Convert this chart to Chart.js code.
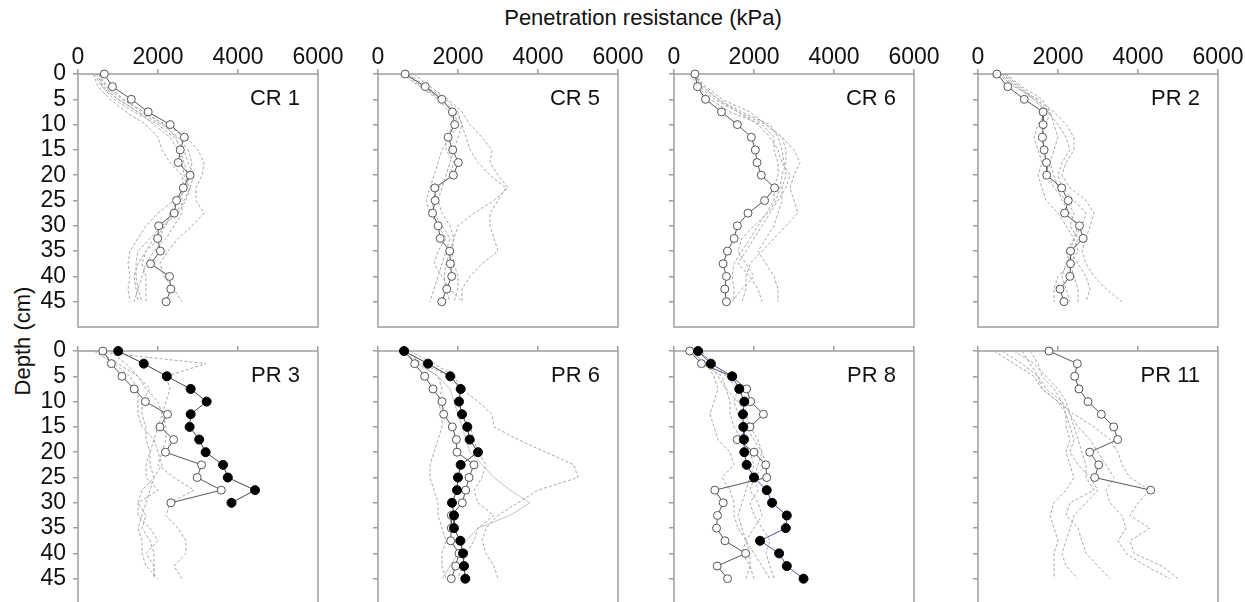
<!DOCTYPE html>
<html>
<head>
<meta charset="utf-8">
<script src="https://cdn.jsdelivr.net/npm/chart.js@4/dist/chart.umd.min.js"></script>
<style>
  body { margin: 0; width: 1245px; height: 602px; overflow: hidden; background: #fff; position: relative;
         font-family: "Liberation Sans", Arial, sans-serif; }
  canvas { position: absolute; }
  .t { position: absolute; font-size: 22px; color: #111; white-space: nowrap; }
</style>
</head>
<body>
<div class="t" style="left:0;width:1286px;text-align:center;top:5px">Penetration resistance (kPa)</div>
<div class="t" style="left:23px;top:341px;transform:translate(-50%,-50%) rotate(-90deg)">Depth (cm)</div>

<script>
// depth of each reading (cm)
const depths = [0, 2.5, 5, 7.5, 10, 12.5, 15, 17.5, 20, 22.5, 25, 27.5, 30, 32.5, 35, 37.5, 40, 42.5, 45];
const xTicks = [0, 2000, 4000, 6000];
const yTicks = [0, 5, 10, 15, 20, 25, 30, 35, 40, 45];
const panelNames = ['CR 1', 'CR 5', 'CR 6', 'PR 2', 'PR 3', 'PR 6', 'PR 8', 'PR 11'];

// highlighted profiles (kPa)
const cr1Open = [658, 861, 1333, 1755, 2304, 2658, 2557, 2506, 2802, 2633, 2464, 2405, 2017, 1992, 2059, 1814, 2287, 2321, 2203];
const cr5Open = [678, 1182, 1595, 1860, 1917, 1752, 1868, 2008, 1884, 1421, 1430, 1364, 1504, 1554, 1793, 1810, 1843, 1719, 1595];
const cr6Open = [523, 589, 788, 1187, 1585, 1934, 2033, 2075, 2183, 2515, 2266, 1851, 1585, 1502, 1336, 1228, 1311, 1270, 1311];
const pr2Open = [471, 744, 1157, 1628, 1628, 1612, 1653, 1711, 1719, 2091, 2256, 2165, 2537, 2628, 2314, 2314, 2298, 2050, 2149];
const pr3Filled = [1004, 1643, 2221, 2817, 3217, 2817, 2791, 3030, 3191, 3626, 3745, 4426, 3838];
const pr3Open = [621, 834, 1098, 1404, 1685, 2238, 2051, 2391, 2187, 3089, 2979, 3583, 2323];
const pr6Filled = [650, 1250, 1808, 2067, 2025, 2100, 2233, 2292, 2500, 2067, 2000, 1975, 1850, 1900, 1900, 2058, 2125, 2150, 2183];
const pr6Open = [667, 917, 1167, 1375, 1600, 1642, 1858, 1958, 1975, 2400, 2275, 2192, 2108, 1833, 1833, 1817, 2025, 1942, 1833];
const pr8Filled = [603, 921, 1456, 1632, 1757, 1724, 1732, 1749, 1757, 1816, 2000, 2318, 2452, 2820, 2795, 2151, 2628, 2820, 3238];
const pr8Open = [393, 686, 1439, 1816, 1916, 2234, 1900, 1582, 2000, 2293, 2318, 1021, 1230, 1088, 1063, 1272, 1791, 1079, 1339];
const pr11Open = [1775, 2483, 2417, 2525, 2750, 3083, 3392, 3492, 2792, 3017, 2917, 4317];

// other profiles at each site (dashed grey)
const cr1Runs = [
  [520, 700, 1100, 1600, 2200, 2700, 3000, 3150, 3100, 2950, 2950, 3150, 2850, 2500, 2250, 2050, 2150, 2400, 2600],
  [450, 650, 1000, 1500, 2100, 2500, 2750, 2850, 2800, 2700, 2500, 2300, 2200, 1900, 1700, 1500, 1400, 1450, 1500],
  [380, 500, 800, 1200, 1700, 2000, 2100, 2300, 2600, 2650, 2400, 2000, 1700, 1500, 1300, 1250, 1300, 1250, 1300],
  [400, 600, 1000, 1500, 1900, 2300, 2500, 2600, 2650, 2800, 2700, 2500, 2100, 1800, 1500, 1450, 1450, 1500, 1600],
  [500, 750, 1150, 1650, 2150, 2450, 2550, 2650, 2750, 2600, 2600, 2600, 2400, 2200, 1900, 1700, 1600, 1500, 1400],
  [550, 600, 900, 1400, 2000, 2400, 2650, 2750, 2900, 2800, 2650, 2450, 2150, 2050, 1700, 1600, 1700, 1700, 1700]
];
const cr5Runs = [
  [900, 1300, 1750, 2100, 2300, 2600, 2850, 2800, 3000, 3250, 2900, 2400, 2000, 1900, 1800, 1700, 1650, 1700, 1800],
  [800, 1200, 1700, 2000, 2100, 2200, 2300, 2500, 2800, 3200, 3000, 2800, 2800, 2900, 3000, 2600, 2300, 2100, 2100],
  [750, 1150, 1600, 1900, 2000, 1800, 1600, 1500, 1400, 1300, 1200, 1300, 1500, 1700, 1500, 1400, 1600, 1800, 2100],
  [600, 1050, 1500, 1800, 1900, 1700, 1700, 1900, 1800, 1500, 1350, 1400, 1600, 1800, 1700, 1600, 1500, 1400, 1300],
  [650, 1100, 1550, 1950, 2100, 2000, 1900, 1800, 1700, 1600, 1500, 1600, 1800, 1900, 1850, 1900, 2000, 2000, 1900]
];
const cr6Runs = [
  [500, 800, 1200, 1900, 2300, 2700, 3000, 3150, 3000, 2900, 3000, 3100, 2800, 2500, 2200, 1900, 1800, 1800, 1700],
  [450, 700, 1100, 1700, 2400, 2600, 2700, 2750, 2800, 2700, 2700, 2600, 2500, 2300, 2100, 2300, 2500, 2600, 2600],
  [400, 600, 900, 1400, 2200, 2500, 2500, 2600, 2600, 2500, 2500, 2300, 2100, 1900, 1700, 1500, 1450, 1500, 1500],
  [550, 650, 1000, 1600, 2100, 2400, 2600, 2700, 2900, 2800, 2600, 2400, 2200, 2000, 1800, 1600, 1900, 2100, 2200],
  [500, 750, 1100, 1600, 2300, 2700, 2800, 2800, 2700, 2650, 2550, 2350, 2000, 1700, 1600, 1800, 2000, 1700, 1450]
];
const pr2Runs = [
  [500, 900, 1500, 1900, 2200, 2400, 2400, 2200, 2100, 2300, 2700, 2900, 2800, 2700, 2600, 2700, 2900, 3200, 3600],
  [600, 1000, 1400, 1700, 1500, 1400, 1500, 1600, 1500, 1600, 1700, 2000, 2200, 2400, 2500, 2300, 2000, 1900, 1900],
  [700, 1100, 1600, 1800, 1900, 2000, 1900, 1800, 1900, 2000, 2100, 2300, 2500, 2400, 2200, 2300, 2400, 2500, 2500],
  [550, 950, 1400, 1750, 2000, 2200, 2300, 2100, 2000, 2100, 2400, 2700, 2600, 2400, 2300, 2500, 2700, 2800, 2700],
  [650, 1050, 1450, 1800, 1700, 1600, 1650, 1700, 1750, 1900, 2200, 2400, 2300, 2500, 2400, 2200, 2100, 2200, 2300]
];
const pr3Runs = [
  [300, 3200, 2200, 2300, 2200, 2100, 2000, 1900, 1800, 1700, 1700, 2000, 1500, 1500, 1800, 2000, 1700, 1900, 1900],
  [800, 1200, 1500, 1700, 2000, 2100, 2200, 2200, 2100, 2000, 2400, 2900, 2300, 2200, 2500, 2700, 2700, 2400, 2600],
  [500, 1000, 1500, 1800, 1600, 1600, 1700, 1700, 1800, 1800, 1900, 1600, 1500, 1700, 1600, 1800, 1900, 1900, 1900],
  [400, 900, 1300, 1500, 1500, 1500, 1600, 1900, 2000, 2100, 1900, 1800, 1700, 1600, 1500, 1600, 1600, 1700, 2000]
];
const pr6Runs = [
  [700, 1100, 1800, 2100, 2500, 2850, 2900, 3500, 4200, 4900, 5000, 4000, 3500, 3000, 2700, 2600, 2700, 2900, 3000],
  [800, 1400, 1900, 2100, 2000, 2100, 2300, 2400, 2500, 2700, 2600, 2400, 2500, 2900, 2500, 2400, 2200, 2100, 2000],
  [600, 1000, 1500, 1600, 1500, 1600, 1600, 1500, 1400, 1300, 1300, 1400, 1500, 1500, 1600, 1700, 1600, 1600, 1700]
];
const pr6Solid = [650, 1000, 1500, 1800, 1900, 2000, 2100, 2200, 2300, 2600, 2900, 3300, 3800, 3300, 2500, 2200, 2000, 1800, 1600];
const pr8Runs = [
  [400, 800, 1000, 1100, 1000, 900, 1000, 1100, 1400, 1500, 1200, 1400, 1500, 1500, 1600, 1800, 1900, 1900, 2000],
  [500, 700, 1200, 1300, 1400, 1400, 1500, 1700, 1900, 2000, 1900, 1800, 1700, 1600, 1700, 1800, 2000, 2200, 2400],
  [600, 1000, 1300, 1600, 1500, 1600, 1800, 2000, 2200, 2300, 2000, 2100, 1900, 2000, 2200, 2400, 2300, 2400, 2500],
  [700, 900, 1100, 1300, 1600, 1800, 1900, 2100, 2200, 2100, 2000, 1900, 2100, 2200, 2000, 1800, 1700, 1900, 1800]
];
const pr11Runs = [
  [400, 900, 1400, 1600, 2000, 2400, 2900, 3300, 3500, 3600, 3800, 4300, 4000, 3800, 4300, 3800, 3900, 4600, 5000],
  [600, 1100, 1500, 1700, 2100, 2300, 2500, 2800, 3000, 3200, 3400, 3200, 3300, 3600, 3700, 3500, 3700, 4200, 4800],
  [900, 1400, 1700, 2000, 2200, 2300, 2400, 2500, 2600, 2700, 2700, 2900, 2300, 2200, 2500, 2600, 2700, 3000, 3300],
  [1300, 1500, 1600, 1900, 2100, 2200, 2200, 2300, 2200, 2300, 2400, 2200, 1900, 1800, 1900, 2000, 1900, 1900, 1900],
  [1100, 1300, 1500, 1600, 2000, 2200, 2300, 2400, 2300, 2500, 2800, 3000, 2700, 2400, 2300, 2200, 2100, 2200, 2500]
];

const FONT = '"Liberation Sans", Arial, sans-serif';
const colLeft = [78, 378, 674, 978];   // plot-area left edge of each column
const rowTop = [74, 351];              // plot-area top edge of each row
const plotW = 240, plotH = 253;

const pts = vals => vals.map((v, i) => ({ x: v, y: depths[i] }));
const dashed = vals => ({ data: pts(vals), showLine: true, borderColor: '#a8a8a8', borderWidth: 1,
  borderDash: [3, 2], pointRadius: 0, clip: false });
const solidGrey = vals => ({ data: pts(vals), showLine: true, borderColor: '#c4c4c4', borderWidth: 1,
  pointRadius: 0, clip: false });
const openLine = vals => ({ data: pts(vals), showLine: true, borderColor: '#555', borderWidth: 1,
  pointRadius: 4, pointBackgroundColor: '#fff', pointBorderColor: '#555', pointBorderWidth: 1, clip: false });
const filledLine = (vals, col) => ({ data: pts(vals), showLine: true, borderColor: col || '#444', borderWidth: 1,
  pointRadius: 4.5, pointBackgroundColor: '#000', pointBorderColor: '#000', pointBorderWidth: 1, clip: false });

// first entries are drawn on top
const panelSets = [
  [openLine(cr1Open), ...cr1Runs.map(dashed)],
  [openLine(cr5Open), ...cr5Runs.map(dashed)],
  [openLine(cr6Open), ...cr6Runs.map(dashed)],
  [openLine(pr2Open), ...pr2Runs.map(dashed)],
  [filledLine(pr3Filled), openLine(pr3Open), ...pr3Runs.map(dashed)],
  [filledLine(pr6Filled), openLine(pr6Open), ...pr6Runs.map(dashed), solidGrey(pr6Solid)],
  [filledLine(pr8Filled, '#4b4ba0'), openLine(pr8Open), ...pr8Runs.map(dashed)],
  [openLine(pr11Open), ...pr11Runs.map(dashed)]
];

const frame = {
  id: 'frame',
  beforeDatasetsDraw(chart) {
    const { ctx, chartArea: a } = chart;
    ctx.save();
    ctx.strokeStyle = '#9e9e9e';
    ctx.lineWidth = 1.5;
    ctx.strokeRect(a.left, a.top, a.right - a.left, a.bottom - a.top);
    ctx.restore();
  },
  afterDraw(chart, args, opts) {
    const { ctx, chartArea: a } = chart;
    ctx.save();
    ctx.font = '22px ' + FONT;
    ctx.fillStyle = '#111';
    ctx.textAlign = 'right';
    ctx.textBaseline = 'middle';
    ctx.fillText(opts.label, a.right - 18, a.top + 25);
    ctx.restore();
  }
};

panelNames.forEach((name, i) => {
  const row = Math.floor(i / 4), col = i % 4;
  const topRow = row === 0;
  const axisH = topRow ? 34 : 24;
  const padR = 30, padB = 24;
  const cv = document.createElement('canvas');
  cv.width = 60 + plotW + padR;
  cv.height = axisH + plotH + padB;
  cv.style.left = (colLeft[col] - 60) + 'px';
  cv.style.top = (rowTop[row] - axisH) + 'px';
  document.body.appendChild(cv);

  new Chart(cv, {
    type: 'scatter',
    data: { datasets: panelSets[i] },
    options: {
      responsive: false,
      animation: false,
      events: [],
      layout: { padding: { left: 0, top: 0, right: padR, bottom: padB } },
      plugins: { legend: { display: false }, tooltip: { enabled: false }, frame: { label: name } },
      scales: {
        x: {
          type: 'linear', position: 'top', min: 0, max: 6000,
          afterBuildTicks: s => { s.ticks = xTicks.map(v => ({ value: v })); },
          afterFit: s => { s.height = axisH; },
          border: { display: false },
          grid: { drawOnChartArea: false, tickLength: 5, color: '#9e9e9e', lineWidth: 1.5 },
          ticks: { display: topRow, color: '#111', padding: 0, maxRotation: 0,
                   font: { size: 23, family: FONT, lineHeight: 1 }, callback: v => String(v) }
        },
        y: {
          type: 'linear', reverse: true, min: 0, max: 50,
          afterBuildTicks: s => { s.ticks = yTicks.map(v => ({ value: v })); },
          afterFit: s => { s.width = 60; },
          border: { display: false },
          grid: { drawOnChartArea: false, tickLength: 5, color: '#9e9e9e', lineWidth: 1.5 },
          ticks: { display: col === 0, color: '#111', padding: 7,
                   font: { size: 23, family: FONT, lineHeight: 1 }, callback: v => String(v) }
        }
      }
    },
    plugins: [frame]
  });
});
</script>
</body>
</html>
